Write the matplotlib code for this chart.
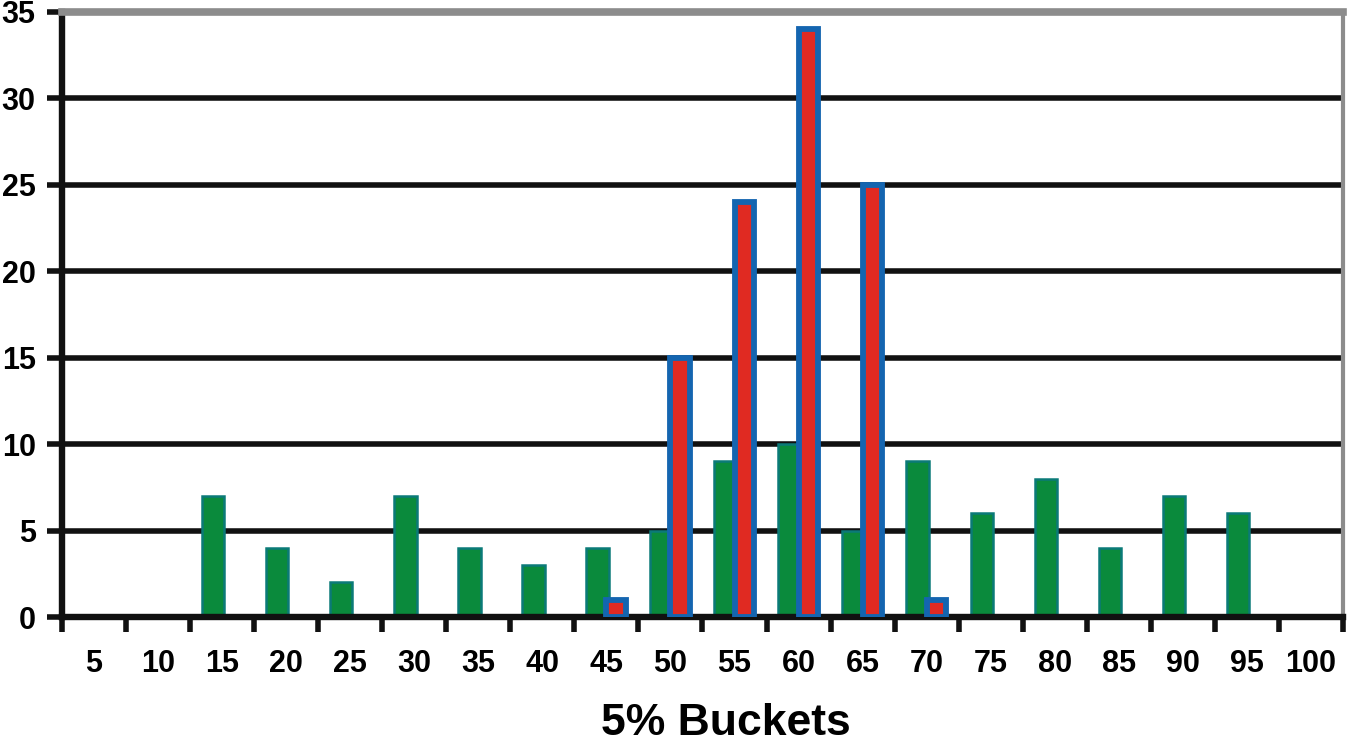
import numpy as np
import matplotlib
matplotlib.use("Agg")
import matplotlib.pyplot as plt

# datos
buckets = ["5", "10", "15", "20", "25", "30", "35", "40", "45", "50",
           "55", "60", "65", "70", "75", "80", "85", "90", "95", "100"]
serie_verde = [0, 0, 7, 4, 2, 7, 4, 3, 4, 5, 9, 10, 5, 9, 6, 8, 4, 7, 6, 0]
serie_roja = [0, 0, 0, 0, 0, 0, 0, 0, 1, 15, 24, 34, 25, 1, 0, 0, 0, 0, 0, 0]
y_ticks = [0, 5, 10, 15, 20, 25, 30, 35]

plt.rcParams['font.family'] = ['Liberation Sans', 'DejaVu Sans']
plt.rcParams['font.weight'] = 'bold'

fig = plt.figure(figsize=(13.49, 7.49), dpi=100)
ax = fig.add_axes([0.046, 0.1762, 0.9495, 0.8078])

x = np.arange(len(buckets))
verde = np.array(serie_verde, dtype=float)
roja = np.array(serie_roja, dtype=float)

# lineas de la cuadricula
for y in y_ticks[1:-1]:
    ax.axhline(y, color='#111111', lw=4.0, zorder=1)

mask_v = verde > 0
ax.bar(x[mask_v] - 0.14, verde[mask_v], width=0.35, color='#0a8a3c',
       edgecolor='#0b7a78', linewidth=1.8, zorder=2)
mask_r = roja > 0
ax.bar(x[mask_r] + 0.15, roja[mask_r], width=0.30, color='#e02a22',
       edgecolor='#1465b0', linewidth=4.2, zorder=3)

ax.set_xlim(-0.5, len(buckets) - 0.5)
ax.set_ylim(0, 35)

ax.set_yticks(y_ticks)
ax.set_yticklabels([str(v) for v in y_ticks])
ax.tick_params(axis='y', length=11, width=4, pad=8, labelsize=22,
               color='#111111')

ax.set_xticks(np.arange(len(buckets) + 1) - 0.5)
ax.set_xticklabels([])
ax.tick_params(axis='x', which='major', length=11, width=4, color='#111111')
ax.set_xticks(x, minor=True)
ax.set_xticklabels(buckets, minor=True)
ax.tick_params(axis='x', which='minor', length=0, pad=23, labelsize=22)

ax.spines['left'].set_linewidth(4.6)
ax.spines['left'].set_color('#111111')
ax.spines['bottom'].set_linewidth(4.6)
ax.spines['bottom'].set_color('#111111')
ax.spines['top'].set_linewidth(5.5)
ax.spines['top'].set_color('#8c8c8c')
ax.spines['right'].set_linewidth(3.0)
ax.spines['right'].set_color('#8c8c8c')

ax.set_xlabel('5% Buckets', fontsize=32, fontweight='bold')
ax.xaxis.set_label_coords(0.518, -0.142)

fig.savefig("out.png", dpi=100)
